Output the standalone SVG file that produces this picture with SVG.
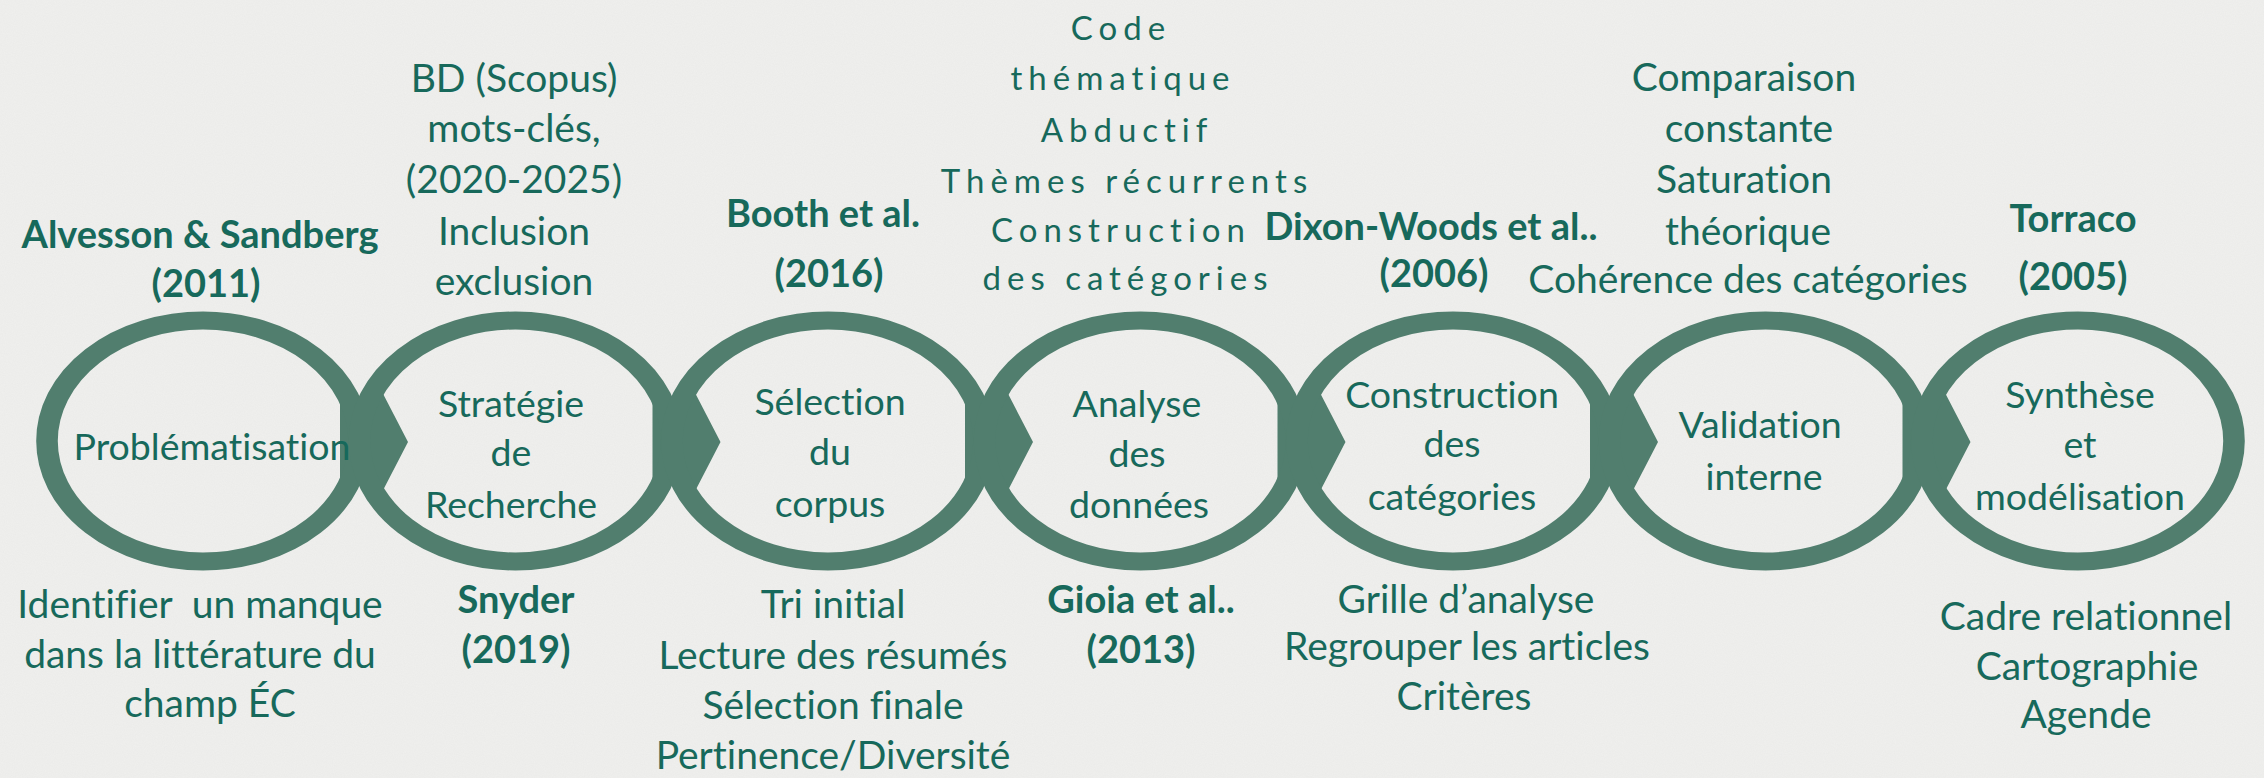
<svg xmlns="http://www.w3.org/2000/svg" width="2264" height="778" viewBox="0 0 2264 778">
<style>
.ring{fill:none;stroke:#517e6e;stroke-width:18}
.arrow{fill:#517e6e}
.t{font-family:Lato,'Liberation Sans',sans-serif;fill:#17695b;text-anchor:middle;font-size:39px;font-variant-ligatures:none;font-feature-settings:"liga" 0}
.b{font-weight:bold;font-size:38px}
.in{font-size:37.5px}
.sp{font-size:33px;letter-spacing:6px}
.pre{white-space:pre}
</style>
<defs>
<filter id="paper" x="0" y="0" width="100%" height="100%">
<feTurbulence type="fractalNoise" baseFrequency="0.9" numOctaves="2" seed="3"/>
<feColorMatrix type="matrix" values="0 0 0 0 0.45  0 0 0 0 0.45  0 0 0 0 0.45  0 0 0 0.09 0"/>
</filter>
</defs>
<rect width="2264" height="778" fill="#f0f0ee"/>
<rect width="2264" height="778" filter="url(#paper)"/>
<g id="connectors">
<polygon class="arrow" points="340,386 359,400 379,386 408,442 379,498 359,484 340,498"/>
<polygon class="arrow" points="652.5,386 671.5,400 691.5,386 720.5,442 691.5,498 671.5,484 652.5,498"/>
<polygon class="arrow" points="965,386 984,400 1004,386 1033,442 1004,498 984,484 965,498"/>
<polygon class="arrow" points="1277.5,386 1296.5,400 1316.5,386 1345.5,442 1316.5,498 1296.5,484 1277.5,498"/>
<polygon class="arrow" points="1590,386 1609,400 1629,386 1658,442 1629,498 1609,484 1590,498"/>
<polygon class="arrow" points="1902.5,386 1921.5,400 1941.5,386 1970.5,442 1941.5,498 1921.5,484 1902.5,498"/>
</g>
<g id="node1">
<ellipse class="ring" cx="0" cy="0" rx="130" ry="120.5" transform="translate(203 441) scale(1.2 1)"/>
<text class="t b" x="200" y="248">Alvesson &amp; Sandberg</text>
<text class="t b" x="206" y="297">(2011)</text>
<text class="t in" x="212" y="460">Problématisation</text>
<text class="t pre" x="200" y="618">Identifier  un manque</text>
<text class="t" x="200" y="668">dans la littérature du</text>
<text class="t" x="210" y="717">champ ÉC</text>
</g>
<g id="node2">
<ellipse class="ring" cx="0" cy="0" rx="130" ry="120.5" transform="translate(515.5 441) scale(1.2 1)"/>
<text class="t" x="514" y="92">BD (Scopus)</text>
<text class="t" x="514" y="142">mots-clés,</text>
<text class="t" x="514" y="193">(2020-2025)</text>
<text class="t" x="514" y="245">Inclusion</text>
<text class="t" x="514" y="295">exclusion</text>
<text class="t in" x="511" y="417">Stratégie</text>
<text class="t in" x="511" y="466">de</text>
<text class="t in" x="511" y="518">Recherche</text>
<text class="t b" x="516" y="613">Snyder</text>
<text class="t b" x="516" y="663">(2019)</text>
</g>
<g id="node3">
<ellipse class="ring" cx="0" cy="0" rx="130" ry="120.5" transform="translate(828 441) scale(1.2 1)"/>
<text class="t b" x="823" y="227">Booth et al.</text>
<text class="t b" x="829" y="287">(2016)</text>
<text class="t in" x="830" y="415">Sélection</text>
<text class="t in" x="830" y="465">du</text>
<text class="t in" x="830" y="517">corpus</text>
<text class="t" x="833" y="618">Tri initial</text>
<text class="t" x="833" y="669">Lecture des résumés</text>
<text class="t" x="833" y="719">Sélection finale</text>
<text class="t" x="833" y="769">Pertinence/Diversité</text>
</g>
<g id="node4">
<ellipse class="ring" cx="0" cy="0" rx="130" ry="120.5" transform="translate(1140.5 441) scale(1.2 1)"/>
<text class="t sp" x="1121" y="40">Code</text>
<text class="t sp" x="1123" y="90">thématique</text>
<text class="t sp" x="1127" y="142">Abductif</text>
<text class="t sp" x="1127" y="193">Thèmes récurrents</text>
<text class="t sp" x="1121" y="242">Construction</text>
<text class="t sp" x="1128" y="290">des catégories</text>
<text class="t in" x="1137" y="417">Analyse</text>
<text class="t in" x="1137" y="467">des</text>
<text class="t in" x="1139" y="518">données</text>
<text class="t b" x="1141" y="613">Gioia et al..</text>
<text class="t b" x="1141" y="663">(2013)</text>
</g>
<g id="node5">
<ellipse class="ring" cx="0" cy="0" rx="130" ry="120.5" transform="translate(1453 441) scale(1.2 1)"/>
<text class="t b" x="1431" y="240">Dixon-Woods et al..</text>
<text class="t b" x="1434" y="287">(2006)</text>
<text class="t in" x="1452" y="408">Construction</text>
<text class="t in" x="1452" y="457">des</text>
<text class="t in" x="1452" y="510">catégories</text>
<text class="t" x="1466" y="613">Grille d’analyse</text>
<text class="t" x="1467" y="660">Regrouper les articles</text>
<text class="t" x="1464" y="710">Critères</text>
</g>
<g id="node6">
<ellipse class="ring" cx="0" cy="0" rx="130" ry="120.5" transform="translate(1765.5 441) scale(1.2 1)"/>
<text class="t" x="1744" y="91">Comparaison</text>
<text class="t" x="1749" y="142">constante</text>
<text class="t" x="1744" y="193">Saturation</text>
<text class="t" x="1748" y="245">théorique</text>
<text class="t" x="1748" y="293">Cohérence des catégories</text>
<text class="t in" x="1760" y="438">Validation</text>
<text class="t in" x="1764" y="490">interne</text>
</g>
<g id="node7">
<ellipse class="ring" cx="0" cy="0" rx="130" ry="120.5" transform="translate(2078 441) scale(1.2 1)"/>
<text class="t b" x="2073" y="232">Torraco</text>
<text class="t b" x="2073" y="290">(2005)</text>
<text class="t in" x="2080" y="408">Synthèse</text>
<text class="t in" x="2080" y="458">et</text>
<text class="t in" x="2080" y="510">modélisation</text>
<text class="t" x="2086" y="630">Cadre relationnel</text>
<text class="t" x="2087" y="680">Cartographie</text>
<text class="t" x="2086" y="728">Agende</text>
</g>
</svg>
